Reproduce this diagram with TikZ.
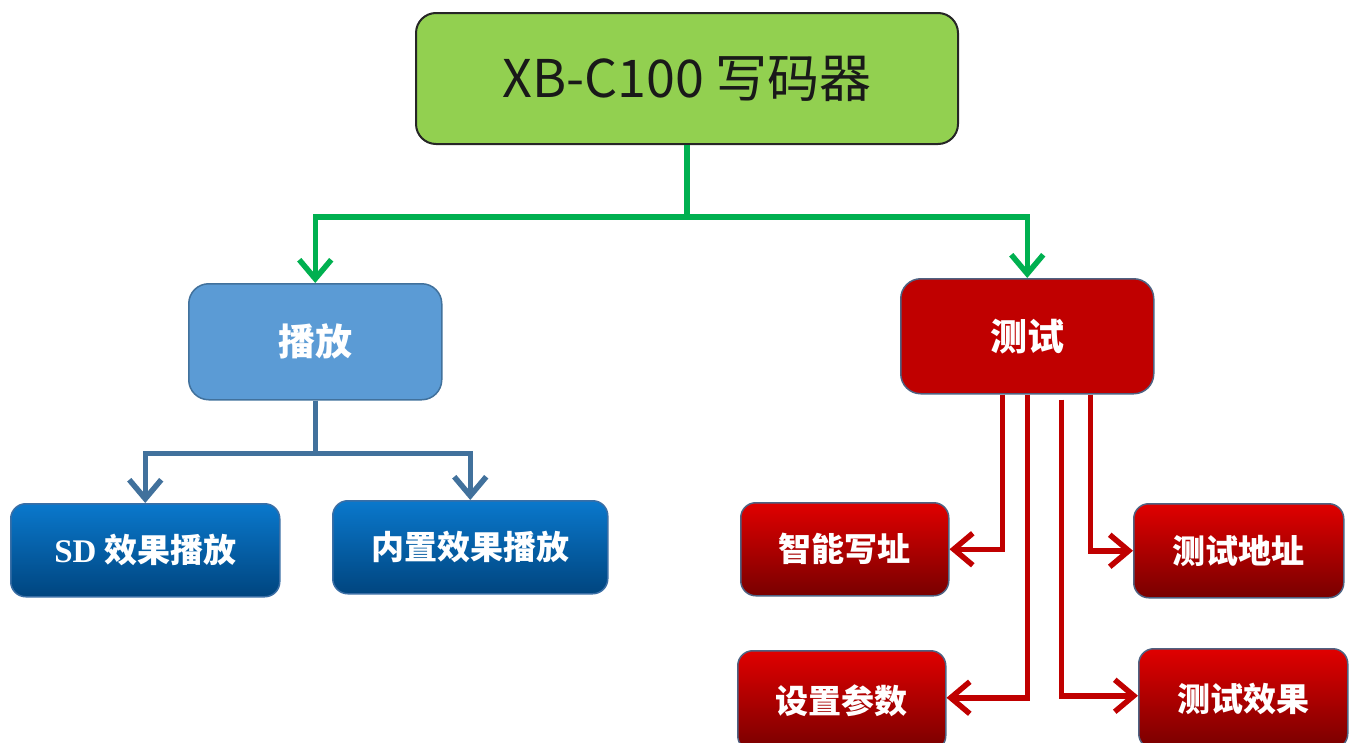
\documentclass[tikz,border=0pt]{standalone}
\usepackage{fontspec}
\newfontfamily\cjk{Noto Sans CJK SC}
\newfontfamily\serifb{Liberation Serif}
\usetikzlibrary{arrows.meta}
\definecolor{topgreen}{HTML}{92D050}
\definecolor{lgreen}{HTML}{00B050}
\definecolor{playblue}{HTML}{5B9BD5}
\definecolor{playborder}{HTML}{41719C}
\definecolor{lblue}{HTML}{41719C}
\definecolor{bluetop}{HTML}{0A78CC}
\definecolor{bluebot}{HTML}{00457F}
\definecolor{bboxborder}{HTML}{3A6EA5}
\definecolor{testred}{HTML}{C00000}
\definecolor{redtop}{HTML}{E00000}
\definecolor{redbot}{HTML}{780000}
\definecolor{redborder}{HTML}{4E6282}
\definecolor{lred}{HTML}{C00000}
\begin{document}
\begin{tikzpicture}[x=1pt,y=-1pt,
  box/.style={rounded corners=#1, inner sep=0pt, anchor=north west, align=center},
  topbox/.style={box=20pt, draw=black!85, line width=2pt, fill=topgreen, text=black!90,
      font=\cjk\fontsize{52}{60}\selectfont},
  midblue/.style={box=20pt, draw=playborder, line width=1.5pt, fill=playblue, text=white,
      font=\cjk\bfseries\fontsize{37}{42}\selectfont},
  midred/.style={box=20pt, draw=redborder, line width=1.5pt, fill=testred, text=white,
      font=\cjk\bfseries\fontsize{37}{42}\selectfont},
  leafblue/.style={box=15pt, draw=bboxborder, line width=1.5pt, top color=bluetop, middle color=bluetop!92!black, bottom color=bluebot, text=white,
      font=\cjk\bfseries\fontsize{33}{38}\selectfont},
  leafred/.style={box=15pt, draw=redborder, line width=1.5pt, top color=redtop, middle color=redtop!92!black, bottom color=redbot, text=white,
      font=\cjk\bfseries\fontsize{33}{38}\selectfont},
  arr/.style={-{Straight Barb[length=19pt,width=32pt]}, line width=5.5pt},
  gline/.style={arr, draw=lgreen},
  bline/.style={arr, draw=lblue},
  rline/.style={arr, draw=lred},
]
\useasboundingbox (0,0) rectangle (1352,742);

\node[topbox, minimum width=542pt, minimum height=131pt] (top) at (415,12) {XB-C100 写码器};

\node[midblue, minimum width=253pt, minimum height=116pt] (play) at (188,283) {播放};
\node[midred, minimum width=253pt, minimum height=115pt] (test) at (900,278) {测试};

\node[leafblue, minimum width=269pt, minimum height=93pt] (sd) at (10,503) {{\serifb\bfseries SD} 效果播放};
\node[leafblue, minimum width=275pt, minimum height=93pt] (inner) at (332,500) {内置效果播放};

\node[leafred, minimum width=208pt, minimum height=93pt] (smart) at (740,502) {智能写址};
\node[leafred, minimum width=210pt, minimum height=94pt] (addr) at (1133,503) {测试地址};
\node[leafred, minimum width=208pt, minimum height=100pt] (param) at (737,650) {设置参数};
\node[leafred, minimum width=209pt, minimum height=100pt] (effect) at (1138,648) {测试效果};

% green connectors
\draw[gline] (top.south) -- ++(0,72) -| (play.north);
\draw[gline] (top.south) -- ++(0,72) -| (test.north);

% blue connectors
\draw[bline] (play.south) -- ++(0,53) -| (sd.north);
\draw[bline] (play.south) -- ++(0,53) -| (inner.north);

% red connectors
\draw[rline] ([xshift=-25pt]test.south) |- (smart.east);
\draw[rline] ([xshift=0pt]test.south) |- ([yshift=3pt]param.east);
\draw[rline] ([xshift=34pt,yshift=-5pt]test.south) |- ([yshift=3pt]effect.west);
\draw[rline] ([xshift=63pt]test.south) |- (addr.west);
\end{tikzpicture}
\end{document}
